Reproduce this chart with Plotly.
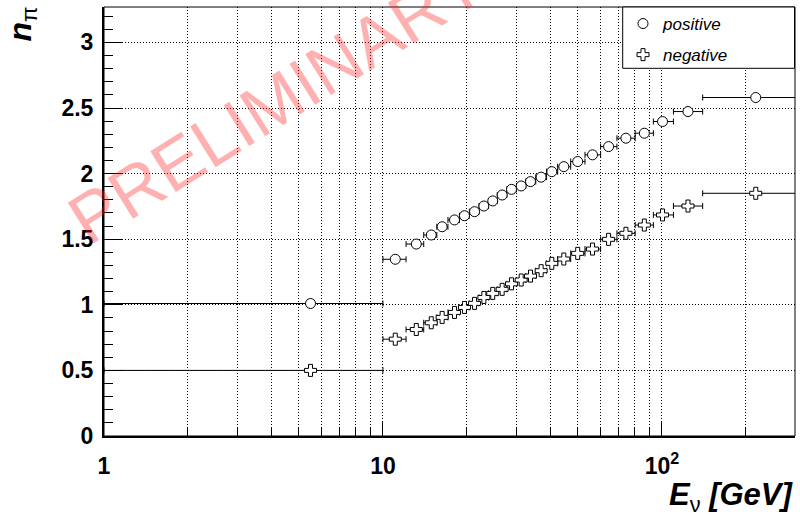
import math
import plotly.graph_objects as go

# Mean neutrino energy per bin [GeV] and the bin edges
energy = [5.5, 11.07, 13.17, 14.9, 16.3, 18.05, 19.6, 21.3, 23.0, 24.75, 26.75,
          28.9, 31.3, 33.8, 36.9, 40.3, 44.5, 49.9, 56.4, 64.4, 74.3, 86.5,
          100.5, 124.0, 217.0]
bin_lo = [1.0, 10.0, 12.1, 14.0, 15.6, 17.1, 18.8, 20.4, 22.1, 23.9, 25.7,
          27.8, 30.1, 32.5, 35.3, 38.6, 42.3, 47.1, 53.0, 60.3, 69.0, 80.2,
          93.2, 110.0, 140.0]
bin_hi = [10.0, 12.1, 14.0, 15.6, 17.1, 18.8, 20.4, 22.1, 23.9, 25.7, 27.8,
          30.1, 32.5, 35.3, 38.6, 42.3, 47.1, 53.0, 60.3, 69.0, 80.2, 93.2,
          110.0, 140.0, 350.0]

# Mean pion multiplicity
n_positive = [1.01, 1.347, 1.463, 1.532, 1.595, 1.647, 1.679, 1.710, 1.753,
              1.792, 1.837, 1.880, 1.906, 1.939, 1.973, 2.015, 2.053, 2.092,
              2.143, 2.206, 2.270, 2.308, 2.397, 2.473, 2.580]
n_negative = [0.50, 0.738, 0.812, 0.863, 0.904, 0.942, 0.980, 1.011, 1.056,
              1.087, 1.118, 1.160, 1.189, 1.219, 1.260, 1.316, 1.349, 1.392,
              1.425, 1.499, 1.545, 1.608, 1.685, 1.753, 1.850]

series_names = ["positive", "negative"]

x_tickvals = [1, 10, 100]
x_ticktext = ["1", "10", "10<sup>2</sup>"]
x_minorvals = [2, 3, 4, 5, 6, 7, 8, 9, 20, 30, 40, 50, 60, 70, 80, 90, 200, 300]
y_tickvals = [0, 0.5, 1, 1.5, 2, 2.5, 3]
y_ticktext = ["0", "0.5", "1", "1.5", "2", "2.5", "3"]

err_plus = [h - c for h, c in zip(bin_hi, energy)]
err_minus = [c - l for c, l in zip(energy, bin_lo)]

# canvas geometry
W, H = 800, 519
L, R, T, B = 104, 5, 7, 83
PW, PH = W - L - R, H - T - B


def px(xp):
    return (xp - L) / PW


def py(yp):
    return (H - B - yp) / PH


FONT = "Liberation Sans, Arial, Helvetica, sans-serif"
DOT = "1px,2px"

err_style = dict(type="data", symmetric=False, array=err_plus,
                 arrayminus=err_minus, color="black", thickness=1, width=3)

fig = go.Figure()
fig.add_trace(go.Scatter(
    x=energy, y=n_positive, mode="markers", name=series_names[0],
    legendgroup="g1",
    marker=dict(symbol="circle", size=10, color="white",
                line=dict(color="black", width=1)),
    error_x=err_style,
))
fig.add_trace(go.Scatter(
    x=energy, y=n_negative, mode="markers", name=series_names[1],
    legendgroup="g2",
    marker=dict(symbol="cross", size=10, color="white",
                line=dict(color="black", width=1)),
    error_x=err_style,
))

tickfont = dict(family=FONT, size=23, color="black", weight="bold")

fig.update_layout(
    width=W, height=H,
    margin=dict(l=L, r=R, t=T, b=B, pad=0),
    paper_bgcolor="white", plot_bgcolor="white",
    xaxis=dict(
        type="log", range=[0, math.log10(300)],
        tickmode="array", tickvals=x_tickvals, ticktext=x_ticktext,
        ticks="inside", ticklen=15, tickwidth=1, tickcolor="black",
        showgrid=True, gridcolor="black", gridwidth=1, griddash=DOT,
        showline=True, linecolor="black", linewidth=2, zeroline=False,
        tickfont=tickfont, ticklabelstandoff=8,
        minor=dict(tickmode="array", tickvals=x_minorvals, ticks="inside",
                   ticklen=8, tickwidth=1, tickcolor="black",
                   showgrid=True, gridcolor="black", gridwidth=1,
                   griddash=DOT),
    ),
    yaxis=dict(
        range=[0, 3.27],
        tickmode="array", tickvals=y_tickvals, ticktext=y_ticktext,
        ticks="inside", ticklen=18, tickwidth=1, tickcolor="black",
        showgrid=True, gridcolor="black", gridwidth=1, griddash=DOT,
        showline=True, linecolor="black", linewidth=2, zeroline=False,
        tickfont=tickfont, ticklabelstandoff=4,
        minor=dict(dtick=0.1, tick0=0, ticks="inside", ticklen=9,
                   tickwidth=1, tickcolor="black", showgrid=False),
    ),
    showlegend=True,
    legend=dict(
        x=px(623), y=py(6), xanchor="left", yanchor="top",
        bgcolor="rgba(0,0,0,0)", borderwidth=0,
        traceorder="grouped", tracegroupgap=6,
        font=dict(family=FONT, size=17, color="black", style="italic"),
    ),
    shapes=[
        # frame around the plotting area
        dict(type="rect", xref="paper", yref="paper", x0=0, x1=1, y0=0, y1=1,
             line=dict(color="black", width=1), layer="above"),
        # legend box
        dict(type="rect", xref="paper", yref="paper",
             x0=px(622.7), x1=px(794.5), y0=py(68.3), y1=1,
             fillcolor="white", line=dict(color="black", width=1),
             layer="above"),
    ],
    annotations=[
        dict(text="PRELIMINARY", xref="paper", yref="paper",
             x=px(276), y=py(101), xanchor="center", yanchor="middle",
             textangle=-32, showarrow=False,
             font=dict(family=FONT, size=70, color="rgba(255,40,40,0.36)")),
        dict(text="<b><i>E</i></b><sub>ν</sub><b><i> [GeV]</i></b>",
             xref="paper", yref="paper", x=px(795), y=py(497),
             xanchor="right", yanchor="middle", showarrow=False,
             font=dict(family=FONT, size=31, color="black")),
        dict(text="<b><i>n</i></b><sub>π</sub>",
             xref="paper", yref="paper", x=px(22), y=py(5),
             xanchor="center", yanchor="top", textangle=-90, showarrow=False,
             font=dict(family=FONT, size=32, color="black")),
    ],
)

fig.write_html("out.html")
